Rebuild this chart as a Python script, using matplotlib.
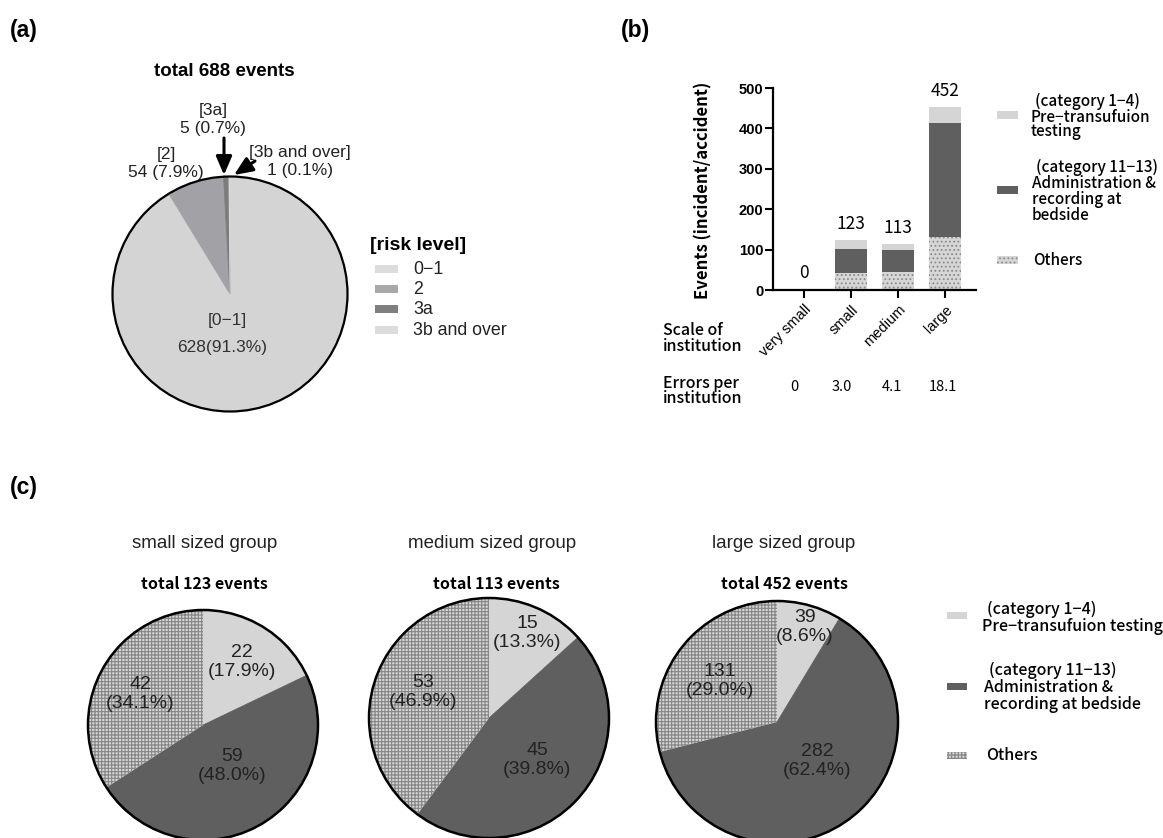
import matplotlib
matplotlib.use("Agg")
import matplotlib.pyplot as plt
from matplotlib.patches import Rectangle, Circle

# ---------------- data ----------------
risk_levels = ["0\u22121", "2", "3a", "3b and over"]
risk_counts = [628, 54, 5, 1]
risk_colors = ["#d4d4d4", "#a2a2a6", "#7c7c7c", "#d8d8d8"]

scales = ["very small", "small", "medium", "large"]
bar_others = [0, 42, 45, 131]
bar_admin = [0, 59, 53, 282]
bar_pre = [0, 22, 15, 39]
bar_totals = [0, 123, 113, 452]
errors_per_inst = ["0", "3.0", "4.1", "18.1"]

group_titles = ["small sized group", "medium sized group", "large sized group"]
group_totals = [123, 113, 452]
# wedge sizes in drawing order: pre-transfusion, administration, others
pie_small = [22, 59, 42]
pie_medium = [15, 53, 45]
pie_large = [39, 282, 131]
lab_small = ["22\n(17.9%)", "59\n(48.0%)", "42\n(34.1%)"]
lab_medium = ["15\n(13.3%)", "45\n(39.8%)", "53\n(46.9%)"]
lab_large = ["39\n(8.6%)", "282\n(62.4%)", "131\n(29.0%)"]

C_PRE = "#d5d5d5"
C_ADM = "#5f5f5f"
C_OTH = "#d6d6d6"

plt.rcParams["hatch.linewidth"] = 0.8

W, H = 1163, 838
fig = plt.figure(figsize=(W / 100, H / 100), dpi=100)

LAT = ["Liberation Sans", "DejaVu Sans"]
CJK = ["Noto Sans CJK JP", "DejaVu Sans"]


def px_axes(x0, y0, x1, y1):
    return fig.add_axes([x0 / W, 1 - y1 / H, (x1 - x0) / W, (y1 - y0) / H])


ov = px_axes(0, 0, W, H)
ov.set_xlim(0, W)
ov.set_ylim(H, 0)
ov.axis("off")
ov.set_zorder(10)


def t(x, y, s, ha="center", va="center", family=LAT, size=12, **kw):
    ov.text(x, y, s, ha=ha, va=va, family=family, fontsize=size, **kw)


ARW = dict(arrowstyle="-|>,head_width=0.3,head_length=0.7",
           lw=2.2, color="black", mutation_scale=16, shrinkA=0, shrinkB=0)

# ---------------- panel (a) ----------------
t(10, 31, "(a)", ha="left", size=16.5, weight="bold")
t(224, 72, "total 688 events", size=13.5, weight="bold")

cx, cy, r = 230, 294, 117.5
axa = px_axes(cx - r, cy - r, cx + r, cy + r)
wa, _ = axa.pie(risk_counts, colors=risk_colors, startangle=90, counterclock=False,
                wedgeprops=dict(linewidth=0.6))
for w_, c_ in zip(wa, risk_colors):
    w_.set_edgecolor(c_)
axa.add_patch(Circle((0, 0), 1, fill=False, lw=1.6, ec="black", clip_on=False))
axa.set_xlim(-1, 1)
axa.set_ylim(-1, 1)
axa.axis("off")

t(227, 320, "[0\u22121]", size=12.5, color="#333333")
t(222, 347, "628(91.3%)", size=12.5, color="#333333")
t(213, 110, "[3a]", size=12.5, color="#222222")
t(213, 128, "5 (0.7%)", size=12.5, color="#222222")
t(166, 155, "[2]", size=12.5, color="#222222")
t(166, 173, "54 (7.9%)", size=12.5, color="#222222")
t(300, 152, "[3b and over]", size=12.5, color="#222222")
t(300, 171, "1 (0.1%)", size=12.5, color="#222222")
ov.annotate("", xy=(224, 175), xytext=(224, 138), arrowprops=ARW)
ov.annotate("", xy=(234, 175), xytext=(255, 161), arrowprops=ARW)

t(370, 245, "[risk level]", ha="left", size=14, weight="bold")
leg_a_colors = ["#dcdcdc", "#a8a8a8", "#7f7f7f", "#dcdcdc"]
for yy, lab, col in zip([269, 289, 309, 330], risk_levels, leg_a_colors):
    ov.add_patch(Rectangle((375, yy - 4), 23, 8, color=col, lw=0))
    t(413, yy, lab, ha="left", size=12.8, color="#222222")

# ---------------- panel (b) ----------------
t(621, 31, "(b)", ha="left", size=16.5, weight="bold")
axb = px_axes(773, 88, 976, 290)
xs = list(range(len(scales)))
bw = 0.69
axb.bar(xs, bar_others, width=bw, color=C_OTH, edgecolor="#8a8a8a", hatch="....", linewidth=0)
axb.bar(xs, bar_admin, width=bw, bottom=bar_others, color=C_ADM, linewidth=0)
bot2 = [a + b for a, b in zip(bar_others, bar_admin)]
axb.bar(xs, bar_pre, width=bw, bottom=bot2, color=C_PRE, linewidth=0)
for i, tot in enumerate(bar_totals):
    axb.annotate(str(tot), (i, tot), xytext=(0, 12), textcoords="offset points",
                 ha="center", va="center", family=CJK, fontsize=12.5)
axb.set_xlim(-0.667, 3.667)
axb.set_ylim(0, 500)
axb.set_yticks([0, 100, 200, 300, 400, 500])
axb.set_xticks(xs)
axb.set_xticklabels(scales, rotation=45, ha="right", rotation_mode="anchor",
                    family=LAT, fontsize=10.5)
for lbl in axb.get_yticklabels():
    lbl.set_family(LAT)
    lbl.set_fontsize(10.5)
    lbl.set_weight("bold")
axb.spines[["top", "right"]].set_visible(False)
for s in ["left", "bottom"]:
    axb.spines[s].set_linewidth(1.6)
axb.tick_params(axis="y", length=6, width=1.5, pad=1)
axb.tick_params(axis="x", length=6, width=1.5, pad=3)

t(703, 190, "Events (incident/accident)", family=CJK, size=12, weight="bold", rotation=90)
t(663, 330, "Scale of", ha="left", family=CJK, size=11.5, weight=500)
t(663, 346, "institution", ha="left", family=CJK, size=11.5, weight=500)
t(663, 383, "Errors per", ha="left", family=CJK, size=11.5, weight=500)
t(663, 398, "institution", ha="left", family=CJK, size=11.5, weight=500)
for xx, v in zip([794, 842, 892, 943], errors_per_inst):
    t(xx, 387, v, family=CJK, size=10.5)

# legend (b)
LB = dict(ha="left", family=CJK, size=11, weight=500)
ov.add_patch(Rectangle((997, 111), 21, 8, color=C_PRE, lw=0))
t(1035, 101, "(category 1\u22124)", **LB)
t(1031, 117, "Pre\u2212transufuion", **LB)
t(1031, 132, "testing", **LB)
ov.add_patch(Rectangle((997, 186), 21, 8, color=C_ADM, lw=0))
t(1036, 167, "(category 11\u221213)", **LB)
t(1032, 183, "Administration &", **LB)
t(1032, 199, "recording at", **LB)
t(1032, 215, "bedside", **LB)
ov.add_patch(Rectangle((997, 256), 21, 8, facecolor=C_OTH, edgecolor="#8a8a8a",
                       hatch="....", lw=0))
t(1033, 260, "Others", **LB)

# ---------------- panel (c) ----------------
t(10, 487, "(c)", ha="left", size=16.5, weight="bold")

pie_specs = [
    (pie_small, lab_small, (203, 725, 115), (205, 204),
     [(242, 662), (232, 766), (140, 694)]),
    (pie_medium, lab_medium, (489, 718, 120), (492, 496),
     [(527, 633), (537, 760), (423, 692)]),
    (pie_large, lab_large, (777, 722, 121), (784, 784),
     [(805, 627), (817, 761), (720, 681)]),
]
for k, (vals, labs, (pcx, pcy, pr), (tx1, tx2), lpos) in enumerate(pie_specs):
    t(tx1, 543, group_titles[k], size=13.5, color="#222222")
    t(tx2, 584, f"total {group_totals[k]} events", family=CJK, size=11.5, weight="bold")
    axp = px_axes(pcx - pr, pcy - pr, pcx + pr, pcy + pr)
    wedges, _ = axp.pie(vals, colors=[C_PRE, C_ADM, C_OTH], startangle=90,
                        counterclock=False, wedgeprops=dict(linewidth=0))
    wedges[0].set_edgecolor(C_PRE)
    wedges[0].set_linewidth(0.5)
    wedges[1].set_edgecolor(C_ADM)
    wedges[1].set_linewidth(0.5)
    wedges[2].set_edgecolor("#858585")
    wedges[2].set_hatch("+++++")
    wedges[2].set_linewidth(0)
    axp.add_patch(Circle((0, 0), 1, fill=False, lw=1.8, ec="black", clip_on=False))
    axp.set_xlim(-1, 1)
    axp.set_ylim(-1, 1)
    axp.axis("off")
    for (lx, ly), s in zip(lpos, labs):
        t(lx, ly, s, size=14, color="#222222", linespacing=1.15)

# legend (c)
LC = dict(ha="left", family=CJK, size=11.5, weight=500)
ov.add_patch(Rectangle((947, 612), 20, 7, color=C_PRE, lw=0))
t(987, 609, "(category 1\u22124)", **LC)
t(982, 626, "Pre\u2212transufuion testing", **LC)
ov.add_patch(Rectangle((947, 683), 20, 7, color=C_ADM, lw=0))
t(989, 670, "(category 11\u221213)", **LC)
t(984, 687, "Administration &", **LC)
t(984, 704, "recording at bedside", **LC)
ov.add_patch(Rectangle((947, 752), 20, 7, facecolor=C_OTH, edgecolor="#858585",
                       hatch="+++++", lw=0))
t(986, 755, "Others", **LC)

fig.savefig("out.png", dpi=100)
